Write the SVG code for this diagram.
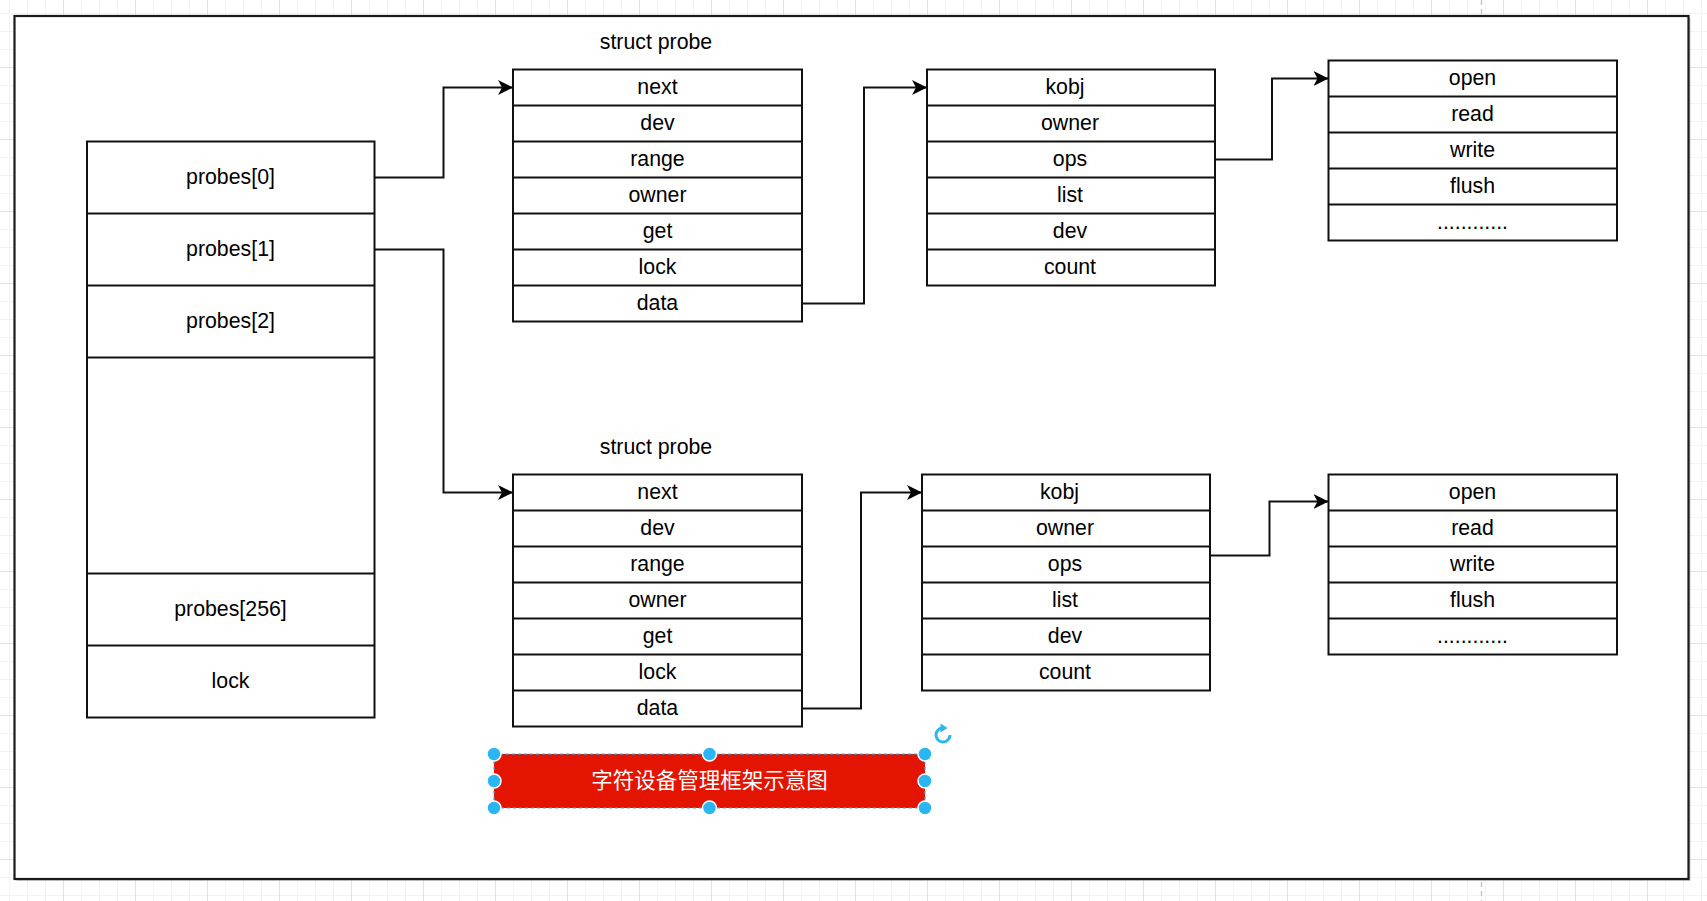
<svg xmlns="http://www.w3.org/2000/svg" width="1707" height="901" viewBox="0 0 1707 901">
  <defs>
    <pattern id="grid" x="63" y="67" width="72" height="72" patternUnits="userSpaceOnUse">
      <path d="M18.5,0 V72 M36.5,0 V72 M54.5,0 V72 M0,18.5 H72 M0,36.5 H72 M0,54.5 H72" stroke="#f3f3f3" stroke-width="1" fill="none"/>
      <path d="M0.5,0 V72 M0,0.5 H72" stroke="#e2e2e2" stroke-width="1" fill="none"/>
    </pattern>
    <marker id="arr" markerUnits="userSpaceOnUse" markerWidth="18" markerHeight="16" refX="15" refY="7.5" orient="auto">
      <path d="M0,0 L15,7.5 L0,15 L4,7.5 Z" fill="#000"/>
    </marker>
    <style>
      .box { fill: #ffffff; stroke: #111111; stroke-width: 2; }
      .div { stroke: #111111; stroke-width: 2; fill: none; }
      .t { font-family: "Liberation Sans", Arial, sans-serif; font-size: 21.3px; fill: #000000; text-anchor: middle; }
      .conn { fill: none; stroke: #111111; stroke-width: 2; }
      .handle { fill: #29b6f2; stroke: #ffffff; stroke-width: 1.5; }
    </style>
  </defs>

  <!-- background grid -->
  <rect x="0" y="0" width="1707" height="901" fill="#ffffff"/>
  <rect x="0" y="0" width="1707" height="901" fill="url(#grid)"/>
  <path d="M1481.5,0 V901" stroke="#c8c8c8" stroke-width="1.5" stroke-dasharray="5 4" fill="none"/>

  <!-- outer frame -->
  <g id="frame">
    <rect x="16.5" y="18" width="1674" height="863" fill="#9a9a9a" opacity="0.5"/>
    <rect x="14.5" y="16" width="1674" height="863" fill="#ffffff" stroke="#1a1a1a" stroke-width="2.2"/>
  </g>

  <!-- probes array -->
  <g id="probes">
    <rect class="box" x="87" y="141.5" width="287.5" height="576"/>
    <path class="div" d="M87,213.5 H374.5 M87,285.5 H374.5 M87,357.5 H374.5 M87,573.5 H374.5 M87,645.5 H374.5"/>
    <text class="t" x="230.5" y="184">probes[0]</text>
    <text class="t" x="230.5" y="256">probes[1]</text>
    <text class="t" x="230.5" y="328">probes[2]</text>
    <text class="t" x="230.5" y="616">probes[256]</text>
    <text class="t" x="230.5" y="688">lock</text>
  </g>

  <!-- upper struct probe -->
  <g id="probe1">
    <text class="t" x="656" y="49">struct probe</text>
    <rect class="box" x="513" y="69.5" width="289" height="252"/>
    <path class="div" d="M513,105.5 H802 M513,141.5 H802 M513,177.5 H802 M513,213.5 H802 M513,249.5 H802 M513,285.5 H802"/>
    <text class="t" x="657.5" y="94">next</text>
    <text class="t" x="657.5" y="130">dev</text>
    <text class="t" x="657.5" y="166">range</text>
    <text class="t" x="657.5" y="202">owner</text>
    <text class="t" x="657.5" y="238">get</text>
    <text class="t" x="657.5" y="274">lock</text>
    <text class="t" x="657.5" y="310">data</text>
  </g>

  <!-- upper cdev -->
  <g id="cdev1">
    <rect class="box" x="927" y="69.5" width="288" height="216"/>
    <path class="div" d="M927,105.5 H1215 M927,141.5 H1215 M927,177.5 H1215 M927,213.5 H1215 M927,249.5 H1215"/>
    <text class="t" x="1065" y="94">kobj</text>
    <text class="t" x="1070" y="130">owner</text>
    <text class="t" x="1070" y="166">ops</text>
    <text class="t" x="1070" y="202">list</text>
    <text class="t" x="1070" y="238">dev</text>
    <text class="t" x="1070" y="274">count</text>
  </g>

  <!-- upper file_operations -->
  <g id="fops1">
    <rect class="box" x="1328.5" y="60.5" width="288.5" height="180"/>
    <path class="div" d="M1328.5,96.5 H1617 M1328.5,132.5 H1617 M1328.5,168.5 H1617 M1328.5,204.5 H1617"/>
    <text class="t" x="1472.5" y="85">open</text>
    <text class="t" x="1472.5" y="121">read</text>
    <text class="t" x="1472.5" y="157">write</text>
    <text class="t" x="1472.5" y="193">flush</text>
    <text class="t" x="1472.5" y="229">............</text>
  </g>

  <!-- lower struct probe -->
  <g id="probe2">
    <text class="t" x="656" y="454">struct probe</text>
    <rect class="box" x="513" y="474.5" width="289" height="252"/>
    <path class="div" d="M513,510.5 H802 M513,546.5 H802 M513,582.5 H802 M513,618.5 H802 M513,654.5 H802 M513,690.5 H802"/>
    <text class="t" x="657.5" y="499">next</text>
    <text class="t" x="657.5" y="535">dev</text>
    <text class="t" x="657.5" y="571">range</text>
    <text class="t" x="657.5" y="607">owner</text>
    <text class="t" x="657.5" y="643">get</text>
    <text class="t" x="657.5" y="679">lock</text>
    <text class="t" x="657.5" y="715">data</text>
  </g>

  <!-- lower cdev -->
  <g id="cdev2">
    <rect class="box" x="922" y="474.5" width="288" height="216"/>
    <path class="div" d="M922,510.5 H1210 M922,546.5 H1210 M922,582.5 H1210 M922,618.5 H1210 M922,654.5 H1210"/>
    <text class="t" x="1059.5" y="499">kobj</text>
    <text class="t" x="1065" y="535">owner</text>
    <text class="t" x="1065" y="571">ops</text>
    <text class="t" x="1065" y="607">list</text>
    <text class="t" x="1065" y="643">dev</text>
    <text class="t" x="1065" y="679">count</text>
  </g>

  <!-- lower file_operations -->
  <g id="fops2">
    <rect class="box" x="1328.5" y="474.5" width="288.5" height="180"/>
    <path class="div" d="M1328.5,510.5 H1617 M1328.5,546.5 H1617 M1328.5,582.5 H1617 M1328.5,618.5 H1617"/>
    <text class="t" x="1472.5" y="499">open</text>
    <text class="t" x="1472.5" y="535">read</text>
    <text class="t" x="1472.5" y="571">write</text>
    <text class="t" x="1472.5" y="607">flush</text>
    <text class="t" x="1472.5" y="643">............</text>
  </g>

  <!-- connectors -->
  <g id="connectors">
    <path class="conn" marker-end="url(#arr)" d="M374.5,177.5 H443.5 V87.5 H513"/>
    <path class="conn" marker-end="url(#arr)" d="M374.5,249.5 H443.5 V492.5 H513"/>
    <path class="conn" marker-end="url(#arr)" d="M802,303.5 H864 V87.5 H927"/>
    <path class="conn" marker-end="url(#arr)" d="M1215,159.5 H1272 V78.5 H1328.5"/>
    <path class="conn" marker-end="url(#arr)" d="M802,708.5 H861 V492.5 H922"/>
    <path class="conn" marker-end="url(#arr)" d="M1210,555.5 H1269.5 V501.5 H1328.5"/>
  </g>

  <!-- title (selected) -->
  <g id="title">
    <rect x="494" y="754" width="431" height="54" fill="#e31400"/>
    <rect x="494" y="754" width="431" height="54" fill="none" stroke="#29b6f2" stroke-width="1.2" stroke-dasharray="3 3"/>
    <text x="709.5" y="787.5" font-family="'Noto Sans CJK SC', 'Noto Sans', sans-serif" font-size="21.5" fill="#ffffff" text-anchor="middle">字符设备管理框架示意图</text>
    <circle class="handle" cx="494" cy="754" r="7"/>
    <circle class="handle" cx="709.5" cy="754" r="7"/>
    <circle class="handle" cx="925" cy="754" r="7"/>
    <circle class="handle" cx="494" cy="781" r="7"/>
    <circle class="handle" cx="925" cy="781" r="7"/>
    <circle class="handle" cx="494" cy="808" r="7"/>
    <circle class="handle" cx="709.5" cy="808" r="7"/>
    <circle class="handle" cx="925" cy="808" r="7"/>
    <path d="M943,728 A7,7 0 1 0 950,735" fill="none" stroke="#29b6f2" stroke-width="3"/>
    <path d="M940.5,723.5 L947.5,728 L940.5,732.5 Z" fill="#29b6f2"/>
  </g>
</svg>
